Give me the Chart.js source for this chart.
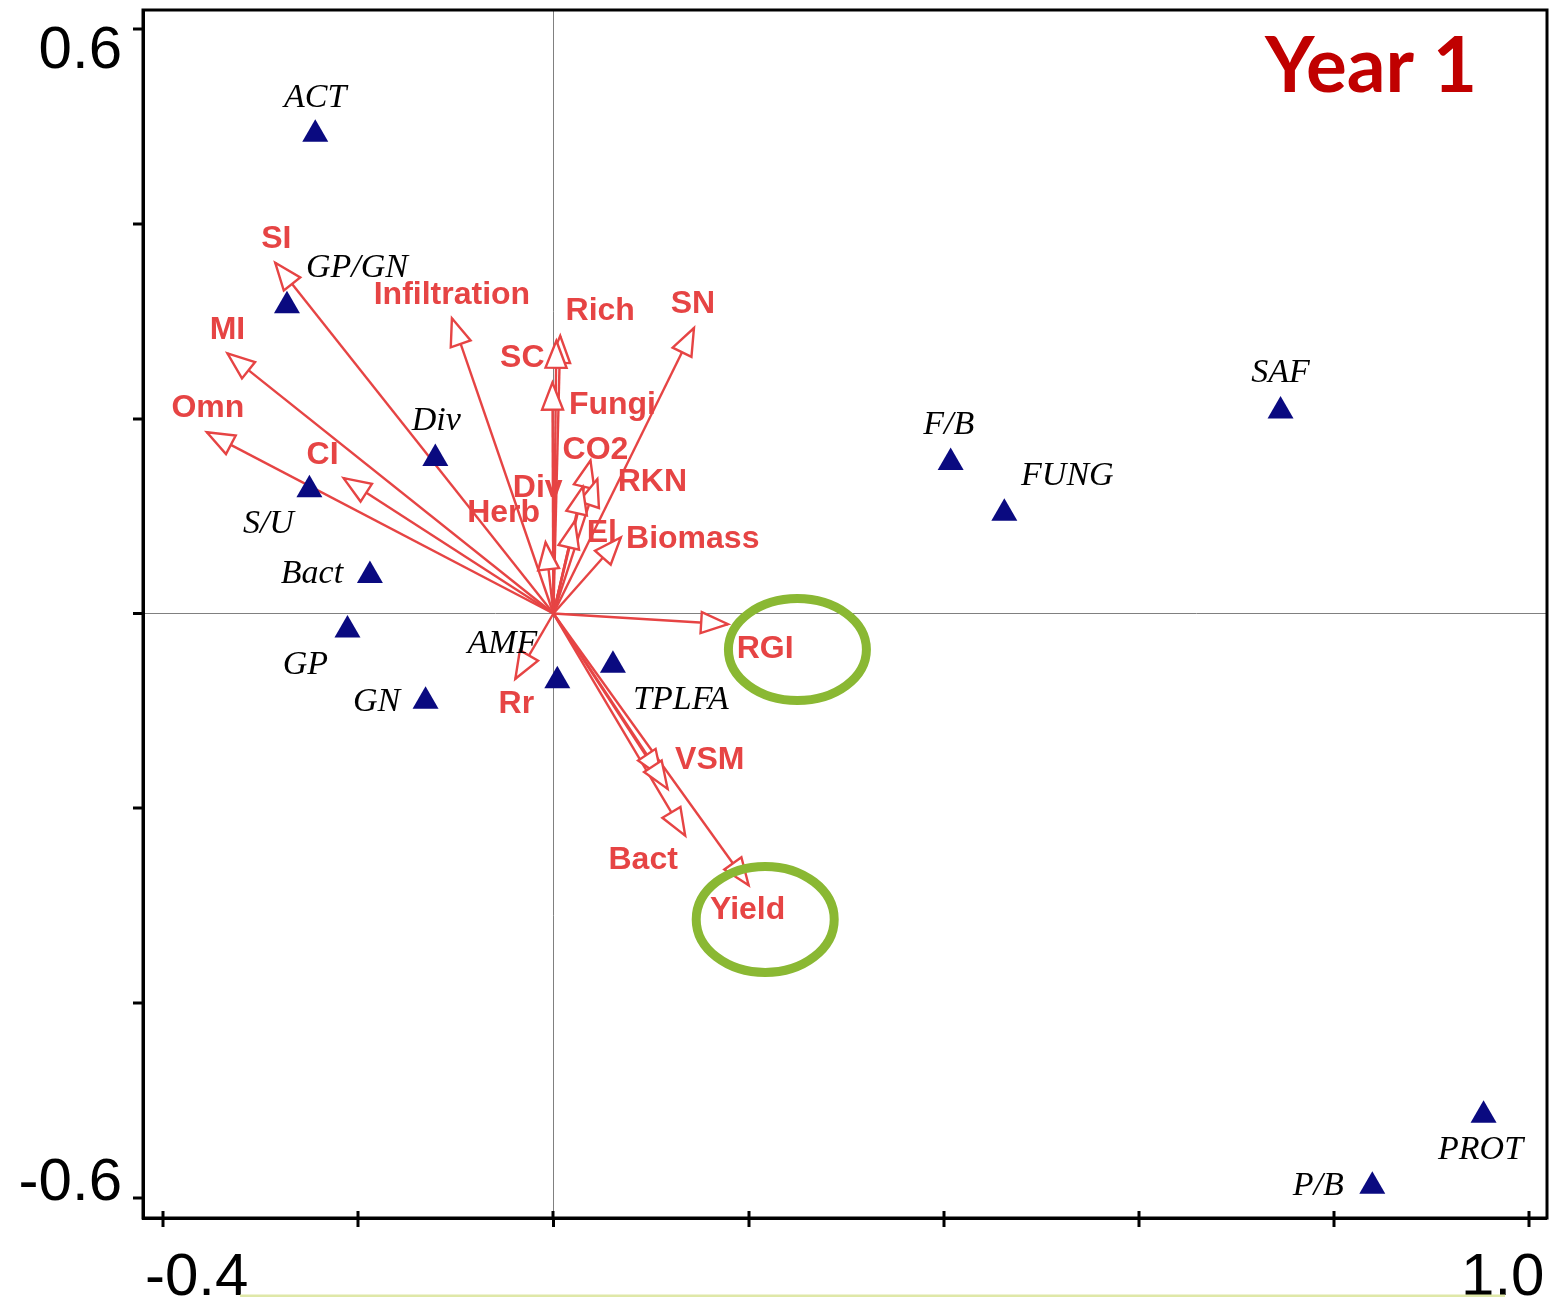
<!DOCTYPE html>
<html>
<head>
<meta charset="utf-8">
<script src="https://cdn.jsdelivr.net/npm/chart.js@4/dist/chart.umd.min.js"></script>
<style>
  html, body { margin: 0; padding: 0; background: #ffffff; }
  #wrap { width: 1565px; height: 1297px; position: relative; }
</style>
</head>
<body>
<div id="wrap"><canvas id="biplot" width="1565" height="1297"></canvas></div>
<script>
// Community indices plotted as triangles
const siteNames = ['ACT', 'GP/GN', 'Div', 'S/U', 'Bact', 'GP', 'GN', 'AMF', 'TPLFA', 'F/B', 'FUNG', 'SAF', 'PROT', 'P/B'];
const siteX = [-0.244, -0.273, -0.121, -0.250, -0.188, -0.211, -0.131, 0.004, 0.061, 0.407, 0.462, 0.745, 0.953, 0.839];
const siteY = [0.492, 0.316, 0.159, 0.127, 0.039, -0.017, -0.090, -0.069, -0.053, 0.155, 0.103, 0.208, -0.515, -0.588];

// Explanatory variables drawn as arrows from the origin
const vectorNames = ['SI', 'MI', 'Omn', 'CI', 'Infiltration', 'Rich', 'SC', 'Fungi', 'SN', 'CO2', 'RKN', 'Div', 'Herb', 'El', 'Biomass', 'RGI', 'Rr', 'VSM', '', 'Bact', 'Yield'];
const vectorX = [-0.285, -0.334, -0.355, -0.215, -0.104, 0.007, 0.003, -0.001, 0.144, 0.038, 0.045, 0.030, -0.008, 0.022, 0.069, 0.179, -0.039, 0.111, 0.117, 0.135, 0.200];
const vectorY = [0.360, 0.267, 0.186, 0.139, 0.303, 0.285, 0.280, 0.237, 0.293, 0.157, 0.138, 0.130, 0.073, 0.095, 0.078, -0.011, -0.067, -0.168, -0.180, -0.228, -0.279];

// Highlighted variables (ellipse centres, axis units)
const highlightNames = ['RGI', 'Yield'];
const highlightX = [0.250, 0.217];
const highlightY = [-0.037, -0.314];

// Axis ticks
const xTicks = [-0.4, -0.2, 0, 0.2, 0.4, 0.6, 0.8, 1.0];
const xTickLabels = ['-0.4', '', '', '', '', '', '', '1.0'];
const yTicks = [-0.6, -0.4, -0.2, 0, 0.2, 0.4, 0.6];
const yTickLabels = ['-0.6', '', '', '', '', '', '0.6'];

const panelTitle = 'Year 1';

// ---- layout / styling ----
const RED = '#e64444';
const NAVY = '#0a0a80';
const GREEN = '#8ab833';
const siteLabelOffset = [[0, -36], [70, -38], [1, -38], [-41, 34], [-58, -1], [-42, 35], [-49, 1], [-55, -37], [68, 35], [-2, -37], [63, -37], [0, -38], [-3, 35], [-54, 0]];
const vectorLabelOffset = [[1, -24], [0, -23], [1, -24], [-21, -23], [0, -23], [40, -25], [-34, 17], [60, 23], [-1, -24], [5, -10], [55, 3], [-45, 1], [-42, -29], [27, 12], [72, 2], [37, 25], [1, 25], [48, -17], [0, 0], [-42, 25], [-1, 25]];
const highlightRadii = [[69, 51], [69, 53]];

const siteData = siteX.map((x, i) => ({ x, y: siteY[i] }));
const arrowSets = vectorX.map((x, i) => ({
  type: 'line',
  label: vectorNames[i],
  data: [{ x: 0, y: 0 }, { x, y: vectorY[i] }],
  borderColor: RED,
  borderWidth: 2.4,
  pointRadius: 0,
  fill: false,
  tension: 0,
  order: 2
}));

function zeroLine(ctx) { return ctx.tick && Math.abs(ctx.tick.value) < 1e-9; }

const overlay = {
  id: 'overlay',
  afterDatasetsDraw(chart) {
    const { ctx } = chart;
    const xs = chart.scales.x, ys = chart.scales.y;
    const ox = xs.getPixelForValue(0), oy = ys.getPixelForValue(0);

    // open arrow heads
    ctx.save();
    ctx.lineWidth = 2.4;
    ctx.strokeStyle = RED;
    ctx.fillStyle = '#ffffff';
    ctx.lineJoin = 'miter';
    vectorX.forEach((vx, i) => {
      const tx = xs.getPixelForValue(vx), ty = ys.getPixelForValue(vectorY[i]);
      const dx = tx - ox, dy = ty - oy, len = Math.hypot(dx, dy);
      const ux = dx / len, uy = dy / len;
      const L = 27, W = 10.5;
      const bx = tx - ux * L, by = ty - uy * L;
      ctx.beginPath();
      ctx.moveTo(tx, ty);
      ctx.lineTo(bx - uy * W, by + ux * W);
      ctx.lineTo(bx + uy * W, by - ux * W);
      ctx.closePath();
      ctx.fill();
      ctx.stroke();
    });
    ctx.restore();

    // triangle labels
    ctx.save();
    ctx.fillStyle = '#000000';
    ctx.font = 'italic 34px "Liberation Serif", "DejaVu Serif", serif';
    ctx.textAlign = 'center';
    ctx.textBaseline = 'middle';
    siteNames.forEach((n, i) => {
      const px = xs.getPixelForValue(siteX[i]) + siteLabelOffset[i][0];
      const py = ys.getPixelForValue(siteY[i]) + siteLabelOffset[i][1];
      ctx.fillText(n, px, py);
    });
    ctx.restore();

    // arrow labels
    ctx.save();
    ctx.fillStyle = RED;
    ctx.font = 'bold 32px "Liberation Sans", Arial, sans-serif';
    ctx.textAlign = 'center';
    ctx.textBaseline = 'middle';
    vectorNames.forEach((n, i) => {
      if (!n) return;
      const px = xs.getPixelForValue(vectorX[i]) + vectorLabelOffset[i][0];
      const py = ys.getPixelForValue(vectorY[i]) + vectorLabelOffset[i][1];
      ctx.fillText(n, px, py);
    });
    ctx.restore();

    // highlight ellipses
    ctx.save();
    ctx.strokeStyle = GREEN;
    ctx.lineWidth = 9;
    highlightNames.forEach((n, i) => {
      const cx = xs.getPixelForValue(highlightX[i]), cy = ys.getPixelForValue(highlightY[i]);
      ctx.beginPath();
      ctx.ellipse(cx, cy, highlightRadii[i][0], highlightRadii[i][1], 0, 0, Math.PI * 2);
      ctx.stroke();
    });
    ctx.restore();
  },
  afterDraw(chart) {
    const { ctx, chartArea: a } = chart;
    const xs = chart.scales.x, ys = chart.scales.y;

    // frame around the plotting area
    ctx.save();
    ctx.strokeStyle = '#000000';
    ctx.lineWidth = 3;
    ctx.strokeRect(a.left, a.top, a.right - a.left, a.bottom - a.top);

    // x ticks also reach a little into the plot
    xTicks.forEach(v => {
      const px = Math.round(xs.getPixelForValue(v));
      ctx.beginPath();
      ctx.moveTo(px, a.bottom - 7);
      ctx.lineTo(px, a.bottom);
      ctx.stroke();
    });

    // end tick numbers
    ctx.fillStyle = '#000000';
    ctx.font = '60px "Liberation Sans", Arial, sans-serif';
    ctx.textBaseline = 'alphabetic';
    xTicks.forEach((v, i) => {
      const t = xTickLabels[i];
      if (!t) return;
      const px = xs.getPixelForValue(v);
      if (i === 0) { ctx.textAlign = 'left'; ctx.fillText(t, px - 18, 1295); }
      else { ctx.textAlign = 'right'; ctx.fillText(t, px + 15, 1295); }
    });
    ctx.textAlign = 'right';
    yTicks.forEach((v, i) => {
      const t = yTickLabels[i];
      if (!t) return;
      const py = ys.getPixelForValue(v);
      ctx.fillText(t, 122, v > 0 ? py + 39 : py + 2);
    });

    // panel title
    ctx.fillStyle = '#c00000';
    ctx.font = 'bold 77px Lato, "Open Sans", sans-serif';
    ctx.textAlign = 'left';
    const w = ctx.measureText(panelTitle).width;
    ctx.translate(1265, 92);
    ctx.scale(212 / w, 1);
    ctx.fillText(panelTitle, 0, 0);
    ctx.restore();

    // thin rule at the foot of the figure
    ctx.save();
    ctx.strokeStyle = '#dfe8a8';
    ctx.lineWidth = 3;
    ctx.beginPath();
    ctx.moveTo(240, 1296);
    ctx.lineTo(1505, 1296);
    ctx.stroke();
    ctx.restore();
  }
};

new Chart(document.getElementById('biplot'), {
  type: 'scatter',
  data: {
    datasets: [{
      label: 'indices',
      data: siteData,
      pointStyle: 'triangle',
      pointRadius: 15,
      pointHoverRadius: 15,
      backgroundColor: NAVY,
      borderColor: NAVY,
      borderWidth: 0,
      order: 1
    }].concat(arrowSets)
  },
  options: {
    responsive: false,
    animation: false,
    devicePixelRatio: 1,
    layout: { autoPadding: false, padding: { top: 10, right: 18, left: 0, bottom: 0 } },
    plugins: { legend: { display: false }, tooltip: { enabled: false } },
    scales: {
      x: {
        type: 'linear',
        position: 'bottom',
        min: -0.4205,
        max: 1.018,
        afterBuildTicks: s => { s.ticks = xTicks.map(v => ({ value: v })); },
        afterFit: s => { s.height = 79; },
        ticks: { display: false },
        grid: {
          drawOnChartArea: true,
          drawTicks: true,
          color: c => zeroLine(c) ? '#808080' : 'rgba(0,0,0,0)',
          lineWidth: c => zeroLine(c) ? 1 : 0,
          tickColor: '#000000',
          tickWidth: 3,
          tickLength: 9
        },
        border: { display: true, color: '#000000', width: 3 }
      },
      y: {
        type: 'linear',
        position: 'left',
        min: -0.6205,
        max: 0.6195,
        afterBuildTicks: s => { s.ticks = yTicks.map(v => ({ value: v })); },
        afterFit: s => { s.width = 143; },
        ticks: { display: false },
        grid: {
          drawOnChartArea: true,
          drawTicks: true,
          color: c => zeroLine(c) ? '#808080' : 'rgba(0,0,0,0)',
          lineWidth: c => zeroLine(c) ? 1 : 0,
          tickColor: '#000000',
          tickWidth: 3,
          tickLength: 10
        },
        border: { display: true, color: '#000000', width: 3 }
      }
    }
  },
  plugins: [overlay]
});
</script>
</body>
</html>
